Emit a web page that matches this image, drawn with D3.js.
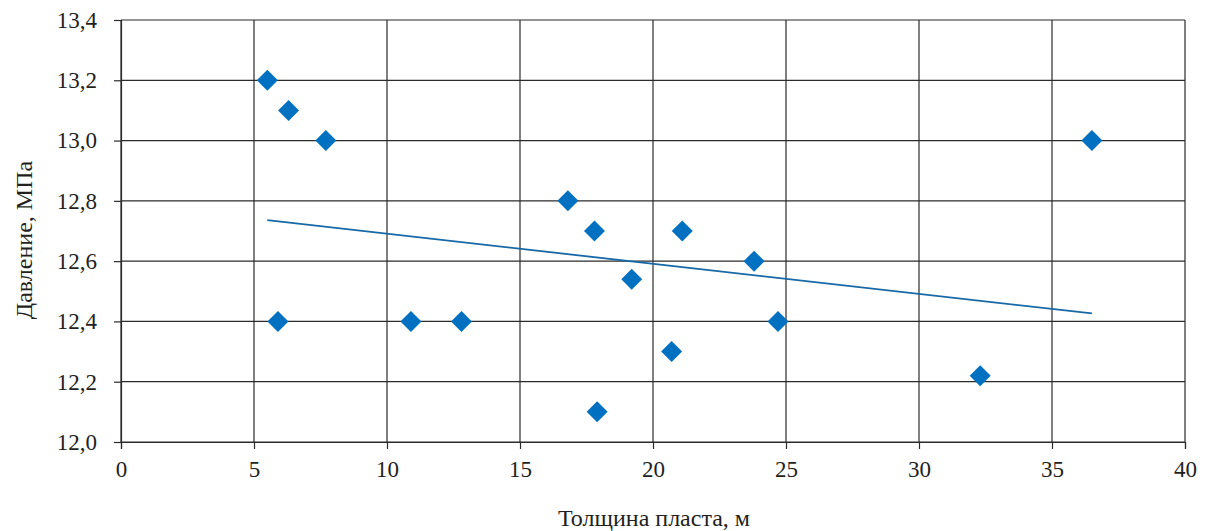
<!DOCTYPE html>
<html>
<head>
<meta charset="utf-8">
<script src="https://cdn.jsdelivr.net/npm/d3@7"></script>
<style>
  html, body { margin: 0; padding: 0; background: #fff; }
  svg { display: block; font-family: "Liberation Serif", "Times New Roman", serif; }
</style>
</head>
<body>
<script>
// Толщина пласта (м) и давление (МПа) по скважинам
const thickness = [5.5, 6.3, 7.7, 5.9, 10.9, 12.8, 16.8, 17.8, 19.2, 21.1, 23.8, 24.7, 20.7, 17.9, 32.3, 36.5];
const pressure  = [13.2, 13.1, 13.0, 12.4, 12.4, 12.4, 12.8, 12.7, 12.54, 12.7, 12.6, 12.4, 12.3, 12.1, 12.22, 13.0];

const xTicks = [0, 5, 10, 15, 20, 25, 30, 35, 40];
const yTicks = [12.0, 12.2, 12.4, 12.6, 12.8, 13.0, 13.2, 13.4];
const xTitle = "Толщина пласта, м";
const yTitle = "Давление, МПа";

const W = 1210, H = 531;
const m = { left: 121, right: 25, top: 20, bottom: 89 };
const FONT = '"Liberation Serif", "Times New Roman", serif';
const INK = "#231f20";

const svg = d3.select("body").append("svg").attr("width", W).attr("height", H);

const x = d3.scaleLinear().domain([0, 40]).range([m.left, W - m.right]);
const y = d3.scaleLinear().domain([12.0, 13.4]).range([H - m.bottom, m.top]);

const fmt = d => d3.format(".1f")(d).replace(".", ",");

// Сетка
const grid = svg.append("g").attr("stroke", "#2b2b2b").attr("stroke-width", 1.2);
grid.selectAll("line.h").data(yTicks).join("line")
  .attr("x1", x(0)).attr("x2", x(40))
  .attr("y1", d => y(d)).attr("y2", d => y(d));
grid.selectAll("line.v").data(xTicks).join("line")
  .attr("y1", y(12.0)).attr("y2", y(13.4))
  .attr("x1", d => x(d)).attr("x2", d => x(d));

// Оси
const xAxis = svg.append("g").attr("transform", `translate(0,${y(12.0)})`)
  .call(d3.axisBottom(x).tickValues(xTicks).tickSize(7).tickPadding(12).tickFormat(d3.format("d")));
const yAxis = svg.append("g").attr("transform", `translate(${x(0)},0)`)
  .call(d3.axisLeft(y).tickValues(yTicks).tickSize(7).tickPadding(17).tickFormat(fmt));
[xAxis, yAxis].forEach(a => {
  a.attr("font-family", null).attr("font-size", null);
  a.select(".domain").attr("stroke", "#2b2b2b").attr("stroke-width", 1.2);
  a.selectAll(".tick line").attr("stroke", "#2b2b2b").attr("stroke-width", 1.2);
  a.selectAll("text").style("font-family", FONT).style("font-size", "23px").style("fill", INK);
});

// Линейный тренд (метод наименьших квадратов)
const n = thickness.length;
const mx = d3.mean(thickness), my = d3.mean(pressure);
let sxy = 0, sxx = 0;
for (let i = 0; i < n; i++) {
  sxy += (thickness[i] - mx) * (pressure[i] - my);
  sxx += (thickness[i] - mx) ** 2;
}
const slope = sxy / sxx, icpt = my - slope * mx;
const [x0, x1] = d3.extent(thickness);
svg.append("line")
  .attr("x1", x(x0)).attr("y1", y(icpt + slope * x0))
  .attr("x2", x(x1)).attr("y2", y(icpt + slope * x1))
  .attr("stroke", "#1768a6").attr("stroke-width", 1.8);

// Точки-ромбы
const pts = thickness.map((t, i) => ({ t, p: pressure[i] }));
const diamond = d3.symbol().type(d3.symbolSquare).size(220);
svg.append("g").selectAll("path").data(pts).join("path")
  .attr("d", diamond)
  .attr("transform", d => `translate(${x(d.t)},${y(d.p)}) rotate(45)`)
  .attr("fill", "#0070c0");

// Подписи осей
svg.append("text").attr("x", (x(0) + x(40)) / 2 + 1).attr("y", 526)
  .attr("text-anchor", "middle")
  .style("font-family", FONT).style("font-size", "24px").style("fill", INK)
  .text(xTitle);
svg.append("text")
  .attr("transform", `translate(32,240) rotate(-90)`)
  .attr("text-anchor", "middle")
  .style("font-family", FONT).style("font-size", "24px").style("fill", INK)
  .text(yTitle);
</script>
</body>
</html>
